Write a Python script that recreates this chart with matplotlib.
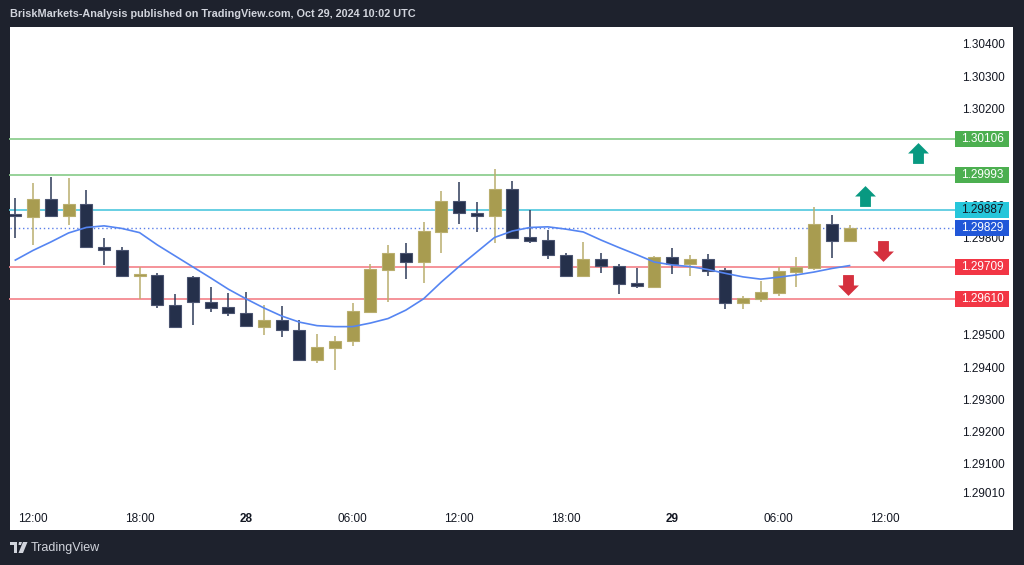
import matplotlib
matplotlib.use("Agg")
import matplotlib.pyplot as plt
from matplotlib.patches import Rectangle, Polygon
from matplotlib.path import Path
import matplotlib.transforms as mtransforms

# ---------------- data (hourly candles, 27 Oct 11:00 -> 29 Oct 10:00) ----------------
opens = [1.29869, 1.29863, 1.29919, 1.29867, 1.29905, 1.29771, 1.29762, 1.29683,
         1.29684, 1.29592, 1.29680, 1.29602, 1.29585, 1.29568, 1.29525, 1.29546,
         1.29515, 1.29422, 1.29458, 1.29480, 1.29571, 1.29700, 1.29754, 1.29724,
         1.29818, 1.29914, 1.29878, 1.29867, 1.29950, 1.29802, 1.29793, 1.29747,
         1.29682, 1.29733, 1.29714, 1.29659, 1.29649, 1.29742, 1.29719, 1.29733,
         1.29700, 1.29597, 1.29611, 1.29630, 1.29695, 1.29707, 1.29843, 1.29791]
highs = [1.29922, 1.29969, 1.29989, 1.29984, 1.29948, 1.29798, 1.29771, 1.29711,
         1.29690, 1.29626, 1.29682, 1.29649, 1.29630, 1.29633, 1.29592, 1.29589,
         1.29546, 1.29501, 1.29497, 1.29597, 1.29718, 1.29778, 1.29785, 1.29848,
         1.29945, 1.29972, 1.29910, 1.30013, 1.29977, 1.29886, 1.29824, 1.29752,
         1.29788, 1.29754, 1.29719, 1.29706, 1.29744, 1.29769, 1.29747, 1.29749,
         1.29706, 1.29620, 1.29667, 1.29711, 1.29740, 1.29896, 1.29871, 1.29840]
lows = [1.29798, 1.29778, 1.29866, 1.29840, 1.29767, 1.29716, 1.29681, 1.29611,
        1.29582, 1.29524, 1.29530, 1.29571, 1.29559, 1.29525, 1.29499, 1.29494,
        1.29421, 1.29413, 1.29391, 1.29465, 1.29569, 1.29600, 1.29672, 1.29661,
        1.29752, 1.29843, 1.29819, 1.29783, 1.29795, 1.29785, 1.29733, 1.29678,
        1.29678, 1.29690, 1.29625, 1.29644, 1.29648, 1.29688, 1.29682, 1.29682,
        1.29579, 1.29579, 1.29602, 1.29620, 1.29649, 1.29700, 1.29737, 1.29788]
closes = [1.29868, 1.29919, 1.29867, 1.29905, 1.29771, 1.29762, 1.29682, 1.29684,
          1.29592, 1.29525, 1.29601, 1.29584, 1.29568, 1.29527, 1.29546, 1.29515,
          1.29422, 1.29461, 1.29481, 1.29574, 1.29702, 1.29754, 1.29724, 1.29821,
          1.29914, 1.29876, 1.29867, 1.29950, 1.29800, 1.29791, 1.29746, 1.29682,
          1.29733, 1.29713, 1.29658, 1.29651, 1.29742, 1.29719, 1.29733, 1.29698,
          1.29597, 1.29613, 1.29633, 1.29697, 1.29711, 1.29843, 1.29791, 1.29829]
ma_values = [1.29731, 1.29761, 1.29787, 1.29815, 1.29832, 1.29837, 1.29829, 1.29816,
             1.29778, 1.29744, 1.29710, 1.29676, 1.29641, 1.29611, 1.29583, 1.29558,
             1.29539, 1.29528, 1.29525, 1.29525, 1.29536, 1.29550, 1.29576, 1.29611,
             1.29663, 1.29711, 1.29756, 1.29801, 1.29821, 1.29832, 1.29834, 1.29827,
             1.29818, 1.29793, 1.29770, 1.29748, 1.29725, 1.29716, 1.29711, 1.29702,
             1.29690, 1.29679, 1.29672, 1.29678, 1.29685, 1.29694, 1.29705, 1.29714]

time_tick_idx = [1, 7, 13, 19, 25, 31, 37, 43, 49]
time_labels = ["12:00", "18:00", "28", "06:00", "12:00", "18:00", "29", "06:00", "12:00"]
bold_labels = ["28", "29"]

# price scale labels (those fully covered by level badges in the reference are omitted)
price_ticks = [1.29010, 1.29100, 1.29200, 1.29300, 1.29400, 1.29500,
               1.29800, 1.29900, 1.30200, 1.30300, 1.30400]

level_prices = [1.30106, 1.29993, 1.29887, 1.29709, 1.29610]
level_line_colors = ["#8fcf91", "#8fcf91", "#5ccbe0", "#f58a91", "#f58a91"]
level_box_colors = ["#4caf50", "#4caf50", "#26c6da", "#f23645", "#f23645"]
level_text_colors = ["white", "white", "#131722", "white", "white"]

last_price = 1.29829

arrow_x = [50.86, 47.87, 48.87, 46.90]
arrow_y = [1.300625, 1.299294, 1.297576, 1.296554]
arrow_up = [True, True, False, False]

header = "BriskMarkets-Analysis published on TradingView.com, Oct 29, 2024 10:02 UTC"

# ---------------- styling ----------------
BG = "#1e222d"
GOLD = "#a89c50"
GOLD_EDGE = "#b9ae6e"
DARK = "#25304b"
DARK_EDGE = "#4a5470"
plt.rcParams["font.family"] = ["Liberation Sans", "DejaVu Sans"]

W, H = 1024, 565
fig = plt.figure(figsize=(W / 100, H / 100), dpi=100, facecolor=BG)


def fx(px):
    return px / W


def fy(py):
    return 1 - py / H


# white panel (behind everything)
fig.patches.append(Rectangle((fx(10), fy(530)), fx(1003), 503 / H,
                             transform=fig.transFigure, facecolor="white",
                             edgecolor="none", zorder=-10))

ax = fig.add_axes([fx(10), fy(505), fx(940), (505 - 27) / H])
ax.set_zorder(1)
ax.set_facecolor("white")
for s in ax.spines.values():
    s.set_visible(False)

ax.set_xlim(-0.299, 52.66)
ax.set_ylim(1.2897276, 1.3045263)

# candles
bw = 0.68
min_h = 0.00005
for i, (o, h, l, c) in enumerate(zip(opens, highs, lows, closes)):
    up = c >= o
    fc = GOLD if up else DARK
    ec = GOLD_EDGE if up else DARK_EDGE
    ax.vlines(i, l, h, color=ec if up else "#2e3a58", lw=1.1, zorder=3)
    lo = min(o, c)
    hh = max(abs(c - o), min_h)
    ax.add_patch(Rectangle((i - bw / 2, lo), bw, hh, facecolor=fc,
                           edgecolor=ec, lw=0.8, zorder=4))

# moving average
ax.plot(range(len(ma_values)), ma_values, color="#5585f2", lw=1.2, zorder=5)

# horizontal levels
for p, lc in zip(level_prices, level_line_colors):
    ax.axhline(p, xmin=0, xmax=1.006, color=lc, lw=1.3, clip_on=False, zorder=2)
ax.axhline(last_price, xmin=0, xmax=1.006, color="#5b7fe8", lw=1.0,
           linestyle=(0, (1, 2)), clip_on=False, zorder=2)

# price labels
trans = mtransforms.blended_transform_factory(ax.transAxes, ax.transData)
box_h = 16 / 32300
box_x0 = (955 - 10) / 940
box_w = 54 / 940
box_cx = (982 - 10) / 940
all_boxes = list(zip(level_prices, level_box_colors, level_text_colors))
all_boxes.append((last_price, "#2157d8", "white"))
for p, bc, tc in all_boxes:
    ax.add_patch(Rectangle((box_x0, p - box_h / 2), box_w, box_h, transform=trans,
                           facecolor=bc, edgecolor="none", clip_on=False, zorder=6))
    ax.text(box_cx, p, f"{p:.5f}", transform=trans, ha="center", va="center",
            color=tc, fontsize=8.5, zorder=7, clip_on=False)

# arrows
up_path = Path([(0, 1), (1, 0), (0.52, 0), (0.52, -1), (-0.52, -1), (-0.52, 0),
                (-1, 0), (0, 1)],
               [Path.MOVETO] + [Path.LINETO] * 6 + [Path.CLOSEPOLY])
down_path = Path([(x, -y) for x, y in up_path.vertices], up_path.codes)
for x, y, u in zip(arrow_x, arrow_y, arrow_up):
    ax.plot([x], [y], marker=up_path if u else down_path, markersize=15,
            color="#089981" if u else "#d5303e", markeredgewidth=0, zorder=6)

# axes ticks
ax.yaxis.tick_right()
ax.set_yticks(price_ticks)
ax.set_yticklabels([f"{p:.5f}" for p in price_ticks])
ax.tick_params(axis="y", length=0, pad=8.5, labelsize=8.5, labelcolor="#131722")
ax.set_xticks(time_tick_idx)
ax.set_xticklabels(time_labels)
ax.tick_params(axis="x", length=0, pad=6, labelsize=8.5, labelcolor="#131722")
for t in ax.get_xticklabels():
    if t.get_text() in bold_labels:
        t.set_fontweight("bold")

# header
fig.text(fx(10), fy(14), header, color="#d1d4dc", fontsize=7.8, fontweight="bold",
         ha="left", va="center")

# footer logo
fig.patches.append(Rectangle((fx(10), fy(545)), fx(7), 3 / H, transform=fig.transFigure,
                             facecolor="#d1d4dc", edgecolor="none"))
fig.patches.append(Rectangle((fx(13.5), fy(553)), fx(3.5), 8 / H, transform=fig.transFigure,
                             facecolor="#d1d4dc", edgecolor="none"))
fig.patches.append(Polygon([(fx(19), fy(542)), (fx(22), fy(542)), (fx(21), fy(545)), (fx(18.5), fy(545))],
                           closed=True, transform=fig.transFigure,
                           facecolor="#d1d4dc", edgecolor="none"))
fig.patches.append(Polygon([(fx(23), fy(542)), (fx(27.5), fy(542)), (fx(23), fy(553)), (fx(18.5), fy(553))],
                           closed=True, transform=fig.transFigure,
                           facecolor="#d1d4dc", edgecolor="none"))
fig.text(fx(31), fy(548), "TradingView", color="#d1d4dc", fontsize=9,
         ha="left", va="center")

fig.savefig("out.png", dpi=100, facecolor=BG)
